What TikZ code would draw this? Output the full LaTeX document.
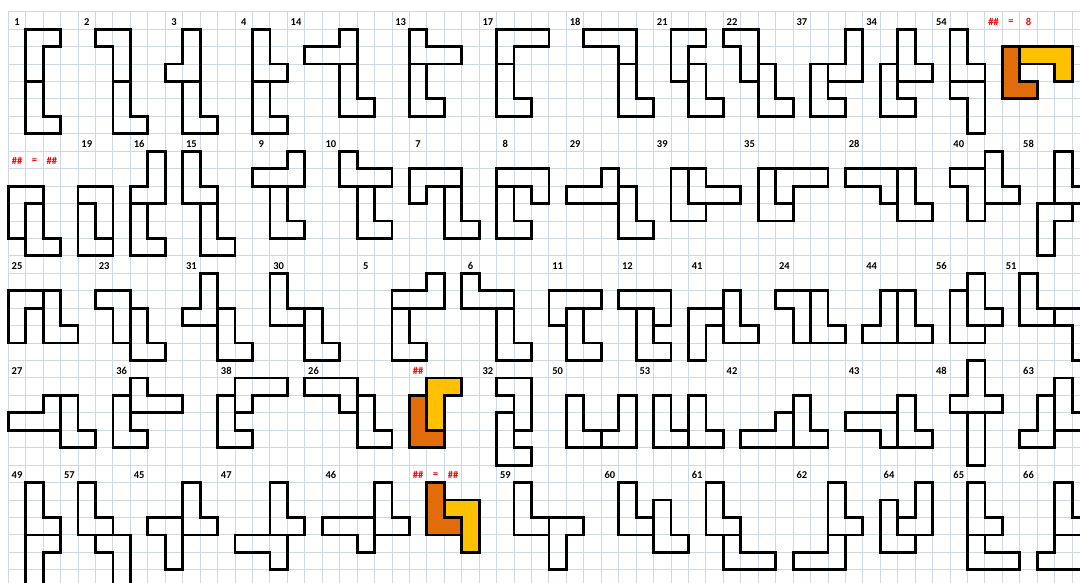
\documentclass[tikz,border=0pt]{standalone}
\usepackage{fontspec}
\setmainfont{Carlito}
\definecolor{gridc}{RGB}{208,215,229}
\definecolor{orng}{RGB}{227,108,10}
\definecolor{yelw}{RGB}{255,192,0}
\definecolor{redt}{RGB}{255,0,0}
\begin{document}
\begin{tikzpicture}[x=17.44pt,y=-17.44pt,
  gridln/.style={draw=gridc,line width=0.9pt},
  shp/.style={draw=black,line width=2.8pt,line join=miter,line cap=rect},
  lbl/.style={font=\bfseries\fontsize{10.5}{12}\selectfont,text=black,inner sep=0pt},
  rlbl/.style={font=\bfseries\fontsize{10.5}{12}\selectfont,text=redt,inner sep=0pt},
  ofill/.style={shp,fill=orng},
  yfill/.style={shp,fill=yelw}]
\useasboundingbox (-0.476,-0.671) rectangle (61.451,32.758);
\fill[white] (-0.476,-0.671) rectangle (61.451,32.758);
\foreach \c in {0,...,61} \draw[gridln] (\c,0) -- (\c,32.758);
\foreach \r in {0,...,32} \draw[gridln] (0,\r) -- (61.451,\r);

% ---------- labels ----------
\foreach \n/\c/\r in {1/0/0,2/4/0,3/9/0,4/13/0,14/16/0,13/22/0,17/27/0,18/32/0,21/37/0,22/41/0,37/45/0,34/49/0,54/53/0,
 19/4/7,16/7/7,15/10/7,9/14/7,10/18/7,7/23/7,8/28/7,29/32/7,39/37/7,35/42/7,28/48/7,40/54/7,58/58/7,
 25/0/14,23/5/14,31/10/14,30/15/14,5/20/14,6/26/14,11/31/14,12/35/14,41/39/14,24/44/14,44/49/14,56/53/14,51/57/14,
 27/0/20,36/6/20,38/12/20,26/17/20,32/27/20,50/31/20,53/36/20,42/41/20,43/48/20,48/53/20,63/58/20,
 49/0/26,57/3/26,45/7/26,47/12/26,46/18/26,59/28/26,60/34/26,61/39/26,62/45/26,64/50/26,65/54/26,66/58/26}
  \node[lbl] (lab\n) at (\c+0.5,\r+0.58) {\n};
\node[rlbl] (ra1) at (56.5,0.58) {\#\#};
\node[rlbl] (ra2) at (57.5,0.58) {=};
\node[rlbl] (ra3) at (58.5,0.58) {8};
\node[rlbl] (rb1) at (0.5,8.58) {\#\#};
\node[rlbl] (rb2) at (1.5,8.58) {=};
\node[rlbl] (rb3) at (2.5,8.58) {\#\#};
\node[rlbl] (rc1) at (23.5,20.58) {\#\#};
\node[rlbl] (rd1) at (23.5,26.58) {\#\#};
\node[rlbl] (rd2) at (24.5,26.58) {=};
\node[rlbl] (rd3) at (25.5,26.58) {\#\#};

% ---------- row 1 ----------
\draw[shp] (1,1)--(3,1)--(3,2)--(2,2)--(2,6)--(3,6)--(3,7)--(1,7)--cycle (1,4)--(2,4);
\draw[shp] (5,1)--(7,1)--(7,6)--(8,6)--(8,7)--(6,7)--(6,2)--(5,2)--cycle (6,4)--(7,4);
\draw[shp] (10,1)--(11,1)--(11,6)--(12,6)--(12,7)--(10,7)--(10,4)--(9,4)--(9,3)--(10,3)--cycle (10,4)--(11,4);
\draw[shp] (14,1)--(15,1)--(15,3)--(16,3)--(16,4)--(15,4)--(15,6)--(16,6)--(16,7)--(14,7)--cycle (14,4)--(15,4);
\draw[shp] (19,1)--(20,1)--(20,5)--(21,5)--(21,6)--(19,6)--(19,3)--(17,3)--(17,2)--(19,2)--cycle (19,3)--(20,3);
\draw[shp] (23,1)--(24,1)--(24,2)--(26,2)--(26,3)--(24,3)--(24,5)--(25,5)--(25,6)--(23,6)--cycle (23,3)--(24,3);
\draw[shp] (28,1)--(31,1)--(31,2)--(29,2)--(29,5)--(30,5)--(30,6)--(28,6)--cycle (28,3)--(29,3);
\draw[shp] (33,1)--(36,1)--(36,5)--(37,5)--(37,6)--(35,6)--(35,2)--(33,2)--cycle (35,3)--(36,3);
\draw[shp] (38,1)--(40,1)--(40,2)--(39,2)--(39,3)--(40,3)--(40,5)--(41,5)--(41,6)--(39,6)--(39,4)--(38,4)--cycle (39,3)--(39,4);
\draw[shp] (41,1)--(43,1)--(43,3)--(44,3)--(44,5)--(45,5)--(45,6)--(43,6)--(43,4)--(42,4)--(42,2)--(41,2)--cycle (43,3)--(43,4);
\draw[shp] (48,1)--(49,1)--(49,4)--(47,4)--(47,5)--(48,5)--(48,6)--(46,6)--(46,3)--(48,3)--cycle (47,3)--(47,4);
\draw[shp] (51,1)--(52,1)--(52,3)--(53,3)--(53,4)--(51,4)--(51,5)--(52,5)--(52,6)--(50,6)--(50,3)--(51,3)--cycle (51,3)--(51,4);
\draw[shp] (54,1)--(55,1)--(55,3)--(56,3)--(56,7)--(55,7)--(55,5)--(54,5)--cycle (54,4)--(56,4);
\filldraw[ofill] (57,2)--(58,2)--(58,4)--(59,4)--(59,5)--(57,5)--cycle;
\filldraw[yfill] (58,2)--(61,2)--(61,4)--(60,4)--(60,3)--(58,3)--cycle;

% ---------- row 2 ----------
\draw[shp] (0,10)--(2,10)--(2,13)--(3,13)--(3,14)--(1,14)--(1,13)--(0,13)--cycle (2,11)--(1,11)--(1,13);
\draw[shp] (4,10)--(6,10)--(6,14)--(4,14)--cycle (4,11)--(5,11)--(5,13)--(6,13);
\draw[shp] (8,8)--(9,8)--(9,11)--(8,11)--(8,13)--(9,13)--(9,14)--(7,14)--(7,10)--(8,10)--cycle (7,11)--(8,11);
\draw[shp] (10,8)--(11,8)--(11,10)--(12,10)--(12,13)--(13,13)--(13,14)--(11,14)--(11,11)--(10,11)--cycle (11,11)--(12,11);
\draw[shp] (16,8)--(17,8)--(17,10)--(16,10)--(16,12)--(17,12)--(17,13)--(15,13)--(15,10)--(14,10)--(14,9)--(16,9)--cycle (15,10)--(16,10);
\draw[shp] (19,8)--(20,8)--(20,9)--(22,9)--(22,10)--(21,10)--(21,12)--(22,12)--(22,13)--(20,13)--(20,10)--(19,10)--cycle (20,10)--(21,10);
\draw[shp] (23,9)--(26,9)--(26,12)--(27,12)--(27,13)--(25,13)--(25,10)--(24,10)--(24,11)--(23,11)--cycle (25,10)--(26,10);
\draw[shp] (28,9)--(31,9)--(31,11)--(30,11)--(30,10)--(29,10)--(29,12)--(30,12)--(30,13)--(28,13)--cycle (28,10)--(29,10);
\draw[shp] (32,10)--(34,10)--(34,9)--(35,9)--(35,10)--(36,10)--(36,12)--(37,12)--(37,13)--(35,13)--(35,11)--(32,11)--cycle (35,10)--(35,11);
\draw[shp] (38,9)--(40,9)--(40,10)--(42,10)--(42,11)--(40,11)--(40,12)--(38,12)--cycle (39,9)--(39,11)--(40,11);
\draw[shp] (43,9)--(47,9)--(47,10)--(45,10)--(45,12)--(43,12)--cycle (44,9)--(44,11)--(45,11);
\draw[shp] (48,9)--(52,9)--(52,11)--(53,11)--(53,12)--(51,12)--(51,11)--(50,11)--(50,10)--(48,10)--cycle (51,9)--(51,11);
\draw[shp] (56,8)--(57,8)--(57,10)--(58,10)--(58,11)--(56,11)--(56,12)--(55,12)--(55,10)--(54,10)--(54,9)--(56,9)--cycle (56,9)--(56,11);
\draw[shp] (60,8)--(61,8)--(61,10)--(62,10)--(62,11)--(61,11)--(61,12)--(60,12)--(60,14)--(59,14)--(59,11)--(60,11)--cycle (60,11)--(61,11);

% ---------- row 3 ----------
\draw[shp] (0,16)--(3,16)--(3,18)--(4,18)--(4,19)--(2,19)--(2,17)--(1,17)--(1,19)--(0,19)--cycle (2,16)--(2,17);
\draw[shp] (5,16)--(7,16)--(7,17)--(8,17)--(8,19)--(9,19)--(9,20)--(7,20)--(7,19)--(6,19)--(6,17)--(5,17)--cycle (7,17)--(7,19);
\draw[shp] (11,15)--(12,15)--(12,17)--(13,17)--(13,19)--(14,19)--(14,20)--(12,20)--(12,18)--(10,18)--(10,17)--(11,17)--cycle (12,17)--(12,18);
\draw[shp] (15,15)--(16,15)--(16,17)--(18,17)--(18,19)--(19,19)--(19,20)--(17,20)--(17,18)--(15,18)--cycle (17,17)--(17,18);
\draw[shp] (24,15)--(25,15)--(25,17)--(23,17)--(23,19)--(24,19)--(24,20)--(22,20)--(22,16)--(24,16)--cycle (22,17)--(23,17);
\draw[shp] (26,15)--(27,15)--(27,16)--(29,16)--(29,19)--(30,19)--(30,20)--(28,20)--(28,17)--(26,17)--cycle (28,17)--(29,17);
\draw[shp] (31,16)--(34,16)--(34,17)--(33,17)--(33,19)--(34,19)--(34,20)--(32,20)--(32,18)--(31,18)--cycle (33,17)--(32,17)--(32,18);
\draw[shp] (35,16)--(38,16)--(38,18)--(37,18)--(37,19)--(38,19)--(38,20)--(36,20)--(36,17)--(35,17)--cycle (36,17)--(37,17)--(37,18);
\draw[shp] (41,16)--(42,16)--(42,18)--(43,18)--(43,19)--(41,19)--(41,18)--(40,18)--(40,20)--(39,20)--(39,17)--(41,17)--cycle (41,17)--(41,18);
\draw[shp] (44,16)--(47,16)--(47,18)--(48,18)--(48,19)--(45,19)--(45,17)--(44,17)--cycle (46,16)--(46,19);
\draw[shp] (50,16)--(52,16)--(52,18)--(53,18)--(53,19)--(49,19)--(49,18)--(50,18)--cycle (51,16)--(51,19);
\draw[shp] (55,15)--(56,15)--(56,17)--(57,17)--(57,18)--(56,18)--(56,19)--(54,19)--(54,16)--(55,16)--cycle (55,16)--(55,18)--(56,18);
\draw[shp] (58,15)--(59,15)--(59,17)--(62,17)--(62,20)--(61,20)--(61,18)--(58,18)--cycle (60,17)--(60,18);

% ---------- row 4 ----------
\draw[shp] (2,22)--(4,22)--(4,24)--(5,24)--(5,25)--(3,25)--(3,24)--(0,24)--(0,23)--(2,23)--cycle (3,22)--(3,24);
\draw[shp] (7,21)--(8,21)--(8,22)--(10,22)--(10,23)--(7,23)--(7,24)--(8,24)--(8,25)--(6,25)--(6,22)--(7,22)--cycle (7,22)--(7,23);
\draw[shp] (13,21)--(16,21)--(16,22)--(14,22)--(14,23)--(13,23)--(13,24)--(14,24)--(14,25)--(12,25)--(12,22)--(13,22)--cycle (13,22)--(13,23);
\draw[shp] (17,21)--(20,21)--(20,22)--(21,22)--(21,24)--(22,24)--(22,25)--(20,25)--(20,23)--(19,23)--(19,22)--(17,22)--cycle (20,22)--(20,23);
\filldraw[ofill] (23,22)--(24,22)--(24,24)--(25,24)--(25,25)--(23,25)--cycle;
\filldraw[yfill] (24,21)--(26,21)--(26,22)--(25,22)--(25,24)--(24,24)--cycle;
\draw[shp] (28,21)--(30,21)--(30,24)--(29,24)--(29,25)--(30,25)--(30,26)--(28,26)--(28,23)--(29,23)--(29,22)--(28,22)--cycle (29,23)--(29,24);
\draw[shp] (32,22)--(33,22)--(33,24)--(35,24)--(35,22)--(36,22)--(36,25)--(32,25)--cycle (34,24)--(34,25);
\draw[shp] (37,22)--(38,22)--(38,24)--(39,24)--(39,22)--(40,22)--(40,24)--(41,24)--(41,25)--(37,25)--cycle (39,24)--(39,25);
\draw[shp] (45,22)--(46,22)--(46,24)--(47,24)--(47,25)--(42,25)--(42,24)--(44,24)--(44,23)--(45,23)--cycle (45,23)--(45,25);
\draw[shp] (51,22)--(52,22)--(52,24)--(53,24)--(53,25)--(50,25)--(50,24)--(48,24)--(48,23)--(51,23)--cycle (51,23)--(51,25);
\draw[shp] (55,20)--(56,20)--(56,22)--(57,22)--(57,23)--(56,23)--(56,26)--(55,26)--(55,23)--(54,23)--(54,22)--(55,22)--cycle (55,23)--(56,23);
\draw[shp] (60,21)--(61,21)--(61,23)--(62,23)--(62,24)--(60,24)--(60,25)--(58,25)--(58,24)--(59,24)--(59,22)--(60,22)--cycle (60,22)--(60,24);

% ---------- row 5 ----------
\draw[shp] (1,27)--(2,27)--(2,29)--(3,29)--(3,31)--(2,31)--(2,33)--(1,33)--cycle (1,30)--(3,30);
\draw[shp] (4,27)--(5,27)--(5,29)--(6,29)--(6,30)--(7,30)--(7,33)--(6,33)--(6,31)--(5,31)--(5,30)--(4,30)--cycle (5,30)--(6,30);
\draw[shp] (10,27)--(11,27)--(11,29)--(12,29)--(12,30)--(10,30)--(10,32)--(9,32)--(9,30)--(8,30)--(8,29)--(10,29)--cycle (10,29)--(10,30);
\draw[shp] (15,27)--(16,27)--(16,29)--(17,29)--(17,30)--(16,30)--(16,32)--(15,32)--(15,31)--(13,31)--(13,30)--(15,30)--cycle (15,30)--(16,30);
\draw[shp] (21,27)--(22,27)--(22,29)--(23,29)--(23,30)--(21,30)--(21,31)--(20,31)--(20,30)--(18,30)--(18,29)--(21,29)--cycle (21,29)--(21,30);
\filldraw[ofill] (24,27)--(25,27)--(25,29)--(26,29)--(26,30)--(24,30)--cycle;
\filldraw[yfill] (25,28)--(27,28)--(27,31)--(26,31)--(26,29)--(25,29)--cycle;
\draw[shp] (29,27)--(30,27)--(30,29)--(33,29)--(33,30)--(32,30)--(32,32)--(31,32)--(31,30)--(29,30)--cycle (31,29)--(31,30);
\draw[shp] (35,27)--(36,27)--(36,29)--(37,29)--(37,28)--(38,28)--(38,30)--(39,30)--(39,31)--(37,31)--(37,30)--(35,30)--cycle (37,29)--(37,30);
\draw[shp] (40,27)--(41,27)--(41,29)--(42,29)--(42,31)--(44,31)--(44,32)--(41,32)--(41,30)--(40,30)--cycle (41,30)--(42,30);
\draw[shp] (47,27)--(48,27)--(48,29)--(49,29)--(49,30)--(48,30)--(48,32)--(45,32)--(45,31)--(47,31)--cycle (47,30)--(48,30);
\draw[shp] (52,27)--(53,27)--(53,30)--(52,30)--(52,31)--(50,31)--(50,28)--(51,28)--(51,29)--(52,29)--cycle (51,29)--(51,30)--(52,30);
\draw[shp] (55,27)--(56,27)--(56,29)--(57,29)--(57,30)--(56,30)--(56,31)--(58,31)--(58,32)--(55,32)--cycle (55,30)--(56,30);
\draw[shp] (60,27)--(61,27)--(61,29)--(62,29)--(62,32)--(59,32)--(59,31)--(60,31)--(60,30)--(60,27) (60,30)--(62,30);
\end{tikzpicture}
\end{document}
